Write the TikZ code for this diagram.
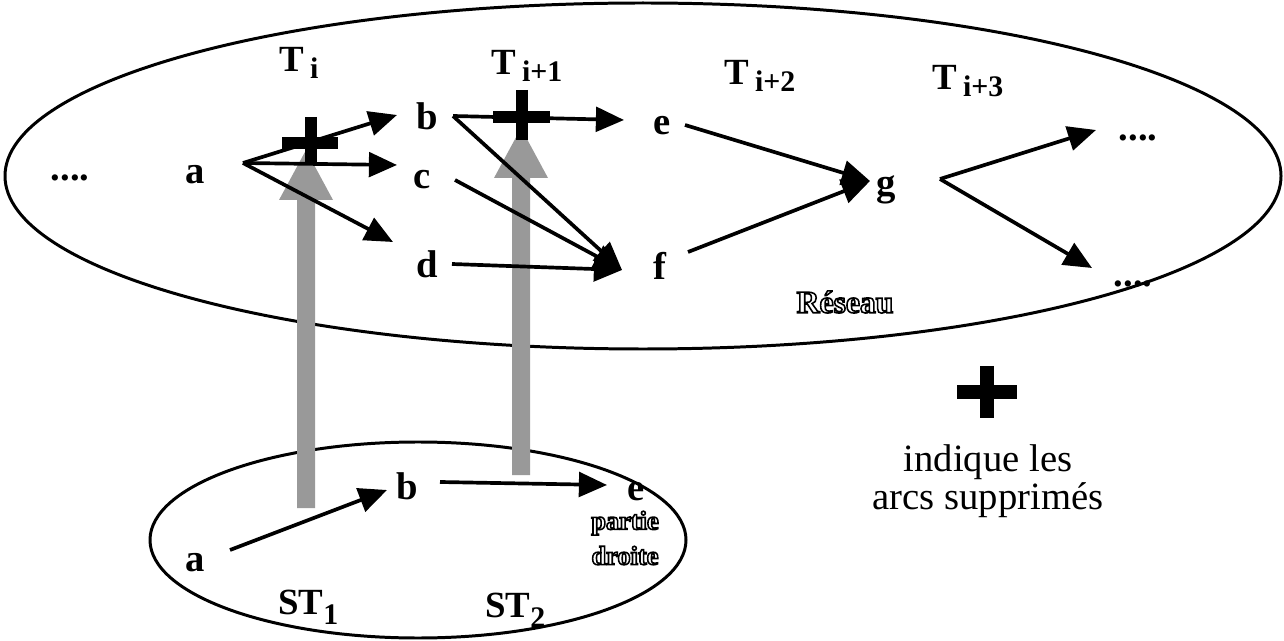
\documentclass[tikz,border=0pt]{standalone}
\usepackage{fontspec}
\setmainfont{Liberation Serif}
\usetikzlibrary{arrows.meta}
\newcommand{\subx}[2][-3.5pt]{\raisebox{#1}{\fontsize{17}{19}\selectfont\bfseries #2}}
\newcommand{\outl}[1]{\special{pdf:literal direct q 1 Tr 0.9 w}#1\special{pdf:literal direct Q}}
\begin{document}
\begin{tikzpicture}[x=0.02cm,y=-0.02cm,
  lbl/.style={font=\fontsize{22}{24}\selectfont\bfseries, inner sep=0pt},
  tlbl/.style={font=\fontsize{21}{24}\selectfont\bfseries, inner sep=0pt, anchor=base west},
  olbl/.style={font=\fontsize{18}{20}\selectfont\bfseries, inner sep=0pt, align=center},
  arr/.style={line width=2.1pt, -{Triangle[length=16pt,width=14pt]}},
  plusbar/.style={line width=6.5pt},
  bigplus/.style={line width=8pt},
  grayarrow/.style={fill=black!40, draw=none},
  ell/.style={line width=1.7pt}]
\useasboundingbox (0,0) rectangle (1284,641);
% ellipses
\draw[ell] (643,176) ellipse [x radius=638, y radius=173];
\draw[ell] (418,540) ellipse [x radius=268, y radius=98];
% gray (hatched) arrows
\fill[grayarrow] (297,508) -- (297,200) -- (279,200) -- (306,150) -- (333,200) -- (315,200) -- (315,508) -- cycle;
\fill[grayarrow] (512,475) -- (512,178) -- (494,178) -- (521,128) -- (548,178) -- (530,178) -- (530,475) -- cycle;
% titles
\node[tlbl] (ti) at (279,72) {T\,\subx{i}};
\node[tlbl] (ti1) at (491,75) {T\,\subx{i+1}};
\node[tlbl] (ti2) at (724,85) {T\,\subx{i+2}};
\node[tlbl] (ti3) at (932,90) {T\,\subx{i+3}};
% network nodes
\node[lbl] (dl) at (70,178) {....};
\node[lbl] (a) at (195,175) {a};
\node[lbl] (b) at (427,116) {b};
\node[lbl] (c) at (422,180) {c};
\node[lbl] (d) at (427,264) {d};
\node[lbl] (e) at (662,126) {e};
\node[lbl] (f) at (660,266) {f};
\node[lbl] (g) at (886,190) {g};
\node[lbl] (dr1) at (1138,138) {....};
\node[lbl] (dr2) at (1133,284) {....};
\node[olbl] (res) at (845,302) {\outl{Réseau}};
% connector endpoints
\coordinate (ao) at (243,163);
\coordinate (bi) at (397,115);
\coordinate (ci) at (397,165);
\coordinate (di) at (393,242);
\coordinate (bo) at (453,116);
\coordinate (co) at (455,180);
\coordinate (do) at (452,264);
\coordinate (ei) at (624,120);
\coordinate (fi) at (622,270);
\coordinate (eo) at (685,125);
\coordinate (fo) at (688,252);
\coordinate (gi) at (870,181);
\coordinate (go) at (940,179);
\coordinate (r1) at (1096,130);
\coordinate (r2) at (1092,268);
\draw[arr] (ao) -- (bi);
\draw[arr] (ao) -- (ci);
\draw[arr] (ao) -- (di);
\draw[arr] (bo) -- (ei);
\draw[arr] (bo) -- (fi);
\draw[arr] (co) -- (fi);
\draw[arr] (do) -- (fi);
\draw[arr] (eo) -- (gi);
\draw[arr] (fo) -- (gi);
\draw[arr] (go) -- (r1);
\draw[arr] (go) -- (r2);
% deletion crosses
\draw[plusbar] (311,117) -- (311,165);
\draw[plusbar] (282,143) -- (338,143);
\draw[plusbar] (522,90) -- (522,140);
\draw[plusbar] (493,117) -- (550,117);
% sub-tree
\node[lbl] (sa) at (195,563) {a};
\node[lbl] (sb) at (407,486) {b};
\node[lbl] (se) at (636,492) {e};
\coordinate (sao) at (230,550);
\coordinate (sbi) at (387,490);
\coordinate (sbo) at (440,482);
\coordinate (sei) at (607,485);
\draw[arr] (sao) -- (sbi);
\draw[arr] (sbo) -- (sei);
\node[tlbl] (st1) at (278,614) {ST\subx[-6pt]{1}};
\node[tlbl] (st2) at (485,617) {ST\subx[-6pt]{2}};
\node[olbl, font=\fontsize{15}{20}\selectfont\bfseries] (pd) at (625,538) {\outl{partie}\\\outl{droite}};
% legend
\draw[bigplus] (957,392) -- (1017,392);
\draw[bigplus] (987,366) -- (987,418);
\node[font=\fontsize{22}{21.5}\selectfont, align=center, inner sep=0pt] (leg) at (988,481) {indique les\\arcs supprimés};
\end{tikzpicture}
\end{document}
